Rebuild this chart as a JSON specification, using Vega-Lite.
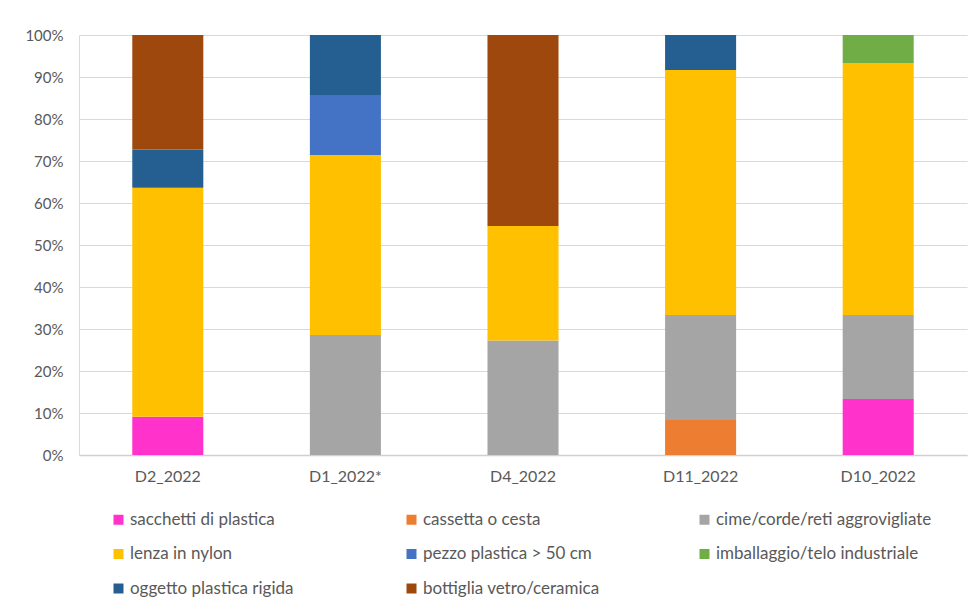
{
  "$schema": "https://vega.github.io/schema/vega-lite/v6.json",
  "width": 888,
  "height": 420,
  "autosize": {"type": "none"},
  "padding": {"left": 79, "top": 35, "right": 9, "bottom": 155},
  "background": "white",
  "datasets": {
    "categorie": [
      {"tipo": "sacchetti di plastica", "ordine": 1},
      {"tipo": "cassetta o cesta", "ordine": 2},
      {"tipo": "cime/corde/reti aggrovigliate", "ordine": 3},
      {"tipo": "lenza in nylon", "ordine": 4},
      {"tipo": "pezzo plastica > 50 cm", "ordine": 5},
      {"tipo": "imballaggio/telo industriale", "ordine": 6},
      {"tipo": "oggetto plastica rigida", "ordine": 7},
      {"tipo": "bottiglia vetro/ceramica", "ordine": 8}
    ],
    "rifiuti": [
      {"sito": "D2_2022", "tipo": "sacchetti di plastica", "n": 1},
      {"sito": "D2_2022", "tipo": "lenza in nylon", "n": 6},
      {"sito": "D2_2022", "tipo": "oggetto plastica rigida", "n": 1},
      {"sito": "D2_2022", "tipo": "bottiglia vetro/ceramica", "n": 3},
      {"sito": "D1_2022*", "tipo": "cime/corde/reti aggrovigliate", "n": 2},
      {"sito": "D1_2022*", "tipo": "lenza in nylon", "n": 3},
      {"sito": "D1_2022*", "tipo": "pezzo plastica > 50 cm", "n": 1},
      {"sito": "D1_2022*", "tipo": "oggetto plastica rigida", "n": 1},
      {"sito": "D4_2022", "tipo": "cime/corde/reti aggrovigliate", "n": 3},
      {"sito": "D4_2022", "tipo": "lenza in nylon", "n": 3},
      {"sito": "D4_2022", "tipo": "bottiglia vetro/ceramica", "n": 5},
      {"sito": "D11_2022", "tipo": "cassetta o cesta", "n": 1},
      {"sito": "D11_2022", "tipo": "cime/corde/reti aggrovigliate", "n": 3},
      {"sito": "D11_2022", "tipo": "lenza in nylon", "n": 7},
      {"sito": "D11_2022", "tipo": "oggetto plastica rigida", "n": 1},
      {"sito": "D10_2022", "tipo": "sacchetti di plastica", "n": 2},
      {"sito": "D10_2022", "tipo": "cime/corde/reti aggrovigliate", "n": 3},
      {"sito": "D10_2022", "tipo": "lenza in nylon", "n": 9},
      {"sito": "D10_2022", "tipo": "imballaggio/telo industriale", "n": 1}
    ]
  },
  "data": {"name": "rifiuti"},
  "transform": [
    {
      "lookup": "tipo",
      "from": {"data": {"name": "categorie"}, "key": "tipo", "fields": ["ordine"]}
    }
  ],
  "mark": {"type": "bar"},
  "encoding": {
    "x": {
      "field": "sito",
      "type": "nominal",
      "sort": ["D2_2022", "D1_2022*", "D4_2022", "D11_2022", "D10_2022"],
      "scale": {"paddingInner": 0.6, "paddingOuter": 0.3},
      "axis": {
        "title": null,
        "labelAngle": 0,
        "ticks": false,
        "domainColor": "#D0D0D0",
        "domainWidth": 1.5,
        "labelPadding": 13,
        "labelFont": "Lato",
        "labelFontSize": 16,
        "labelColor": "#595959"
      }
    },
    "y": {
      "field": "n",
      "type": "quantitative",
      "stack": "normalize",
      "scale": {"domain": [0, 1]},
      "axis": {
        "title": null,
        "format": ".0%",
        "values": [0, 0.1, 0.2, 0.3, 0.4, 0.5, 0.6, 0.7, 0.8, 0.9, 1],
        "ticks": false,
        "domainColor": "#D9D9D9",
        "gridColor": "#D9D9D9",
        "labelPadding": 16,
        "labelFont": "Lato",
        "labelFontSize": 15,
        "labelColor": "#595959"
      }
    },
    "order": {"field": "ordine", "type": "quantitative", "sort": "ascending"},
    "color": {
      "field": "tipo",
      "type": "nominal",
      "scale": {
        "domain": [
          "sacchetti di plastica",
          "cassetta o cesta",
          "cime/corde/reti aggrovigliate",
          "lenza in nylon",
          "pezzo plastica > 50 cm",
          "imballaggio/telo industriale",
          "oggetto plastica rigida",
          "bottiglia vetro/ceramica"
        ],
        "range": ["#FF33CC", "#ED7D31", "#A5A5A5", "#FFC000", "#4472C4", "#70AD47", "#255E91", "#9E480E"]
      },
      "legend": {
        "title": null,
        "orient": "none",
        "legendX": 31,
        "legendY": 476,
        "direction": "horizontal",
        "columns": 3,
        "gridAlign": "all",
        "columnPadding": 57,
        "rowPadding": 16.5,
        "symbolType": "square",
        "symbolSize": 100,
        "symbolStrokeWidth": 0,
        "symbolOffset": 0,
        "labelOffset": 3,
        "labelFont": "Lato",
        "labelFontSize": 17,
        "labelColor": "#595959",
        "labelLimit": 400
      }
    }
  },
  "config": {"view": {"stroke": null}}
}
